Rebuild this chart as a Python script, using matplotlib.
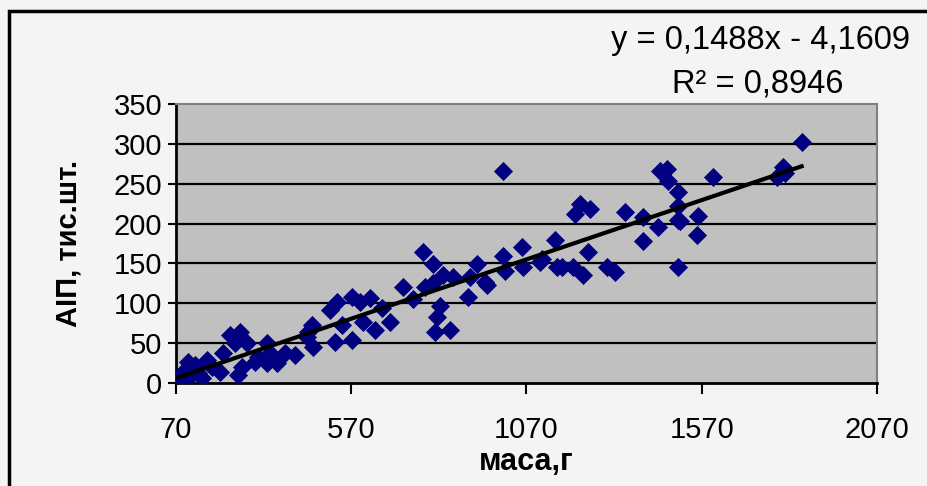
import matplotlib
matplotlib.use("Agg")
import matplotlib.pyplot as plt
import numpy as np
from matplotlib.patches import Rectangle

# mass (g) vs AIP (thousand pcs)
mass = [
    76, 81, 90, 96, 104, 110, 118, 124, 133, 144, 158, 173, 195, 204, 224,
    238, 247, 253, 258, 272, 295, 304, 330, 330, 338, 358, 381, 409, 444,
    446, 458, 461, 509, 523, 529, 543, 572, 572, 595, 603, 623, 638, 658,
    680, 717, 746, 774, 780, 803, 803, 809, 814, 823, 831, 851, 860, 903,
    909, 929, 951, 957, 1003, 1003, 1008, 1057, 1060, 1108, 1114, 1151,
    1157, 1171, 1202, 1208, 1222, 1231, 1245, 1251, 1299, 1322, 1351,
    1402, 1402, 1445, 1450, 1470, 1473, 1502, 1502, 1502, 1507, 1502,
    1556, 1559, 1601, 1784, 1801, 1807, 1855,
]
aip = [
    1, 6, 14, 2, 26, 9, 20, 23, 13, 6, 29, 20, 14, 38, 60,
    50, 10, 64, 20, 50, 26, 33, 50, 25, 38, 25, 38, 35, 58,
    64, 73, 45, 92, 52, 101, 73, 108, 54, 102, 77, 107, 67, 94,
    76, 120, 105, 164, 121, 149, 126, 64, 83, 96, 136, 67, 133, 108,
    133, 149, 127, 123, 266, 159, 140, 170, 145, 152, 155, 180,
    146, 145, 146, 212, 224, 136, 164, 218, 146, 139, 215,
    208, 178, 196, 266, 268, 253, 240, 222, 205, 203, 145,
    186, 209, 258, 258, 271, 264, 302,
]

slope = 0.1488
intercept = -4.1609
eq_text = "y = 0,1488x - 4,1609"
r2_text = "R² = 0,8946"

x_ticks = [70, 570, 1070, 1570, 2070]
y_ticks = [0, 50, 100, 150, 200, 250, 300, 350]

plt.rcParams["font.family"] = ["Liberation Sans", "DejaVu Sans"]

fig = plt.figure(figsize=(9.28, 4.86), dpi=100, facecolor="#f4f4f4")
ax = fig.add_axes([176 / 928, 1 - 383 / 486, (877 - 176) / 928, (383 - 104) / 486])
ax.set_facecolor("#c0c0c0")

for yv in y_ticks[1:-1]:
    ax.axhline(yv, color="black", linewidth=1.6, zorder=1)

ax.scatter(mass, aip, marker="D", s=95, color="#000080", linewidths=0, zorder=3)

xs = np.array([min(mass), max(mass)])
ax.plot(xs, slope * xs + intercept, color="black", linewidth=3, zorder=4)

ax.set_xlim(70, 2070)
ax.set_ylim(0, 350)
ax.set_xticks(x_ticks)
ax.set_yticks(y_ticks)
ax.tick_params(axis="x", direction="out", length=8, width=1.5, pad=16, labelsize=21)
ax.tick_params(axis="y", direction="out", length=6, width=1.5, pad=4, labelsize=21)

for side in ["top", "right"]:
    ax.spines[side].set_color("#808080")
    ax.spines[side].set_linewidth(1.5)
for side in ["left", "bottom"]:
    ax.spines[side].set_color("black")
    ax.spines[side].set_linewidth(2)

ax.set_xlabel("маса,г", fontsize=22, fontweight="bold", labelpad=2)
ax.set_ylabel("АІП, тис.шт.", fontsize=21, fontweight="bold", labelpad=22)

fig.text(910 / 928, 1 - 40 / 486, eq_text, ha="right", va="center", fontsize=23.5)
fig.text(758 / 928, 1 - 84 / 486, r2_text, ha="center", va="center", fontsize=23.5)

fig.patches.append(Rectangle((9 / 928, -0.1), 1.0, 1.1 - 11 / 486,
                             transform=fig.transFigure, fill=False,
                             edgecolor="black", linewidth=2.5))

fig.savefig("out.png", dpi=100, facecolor=fig.get_facecolor())
